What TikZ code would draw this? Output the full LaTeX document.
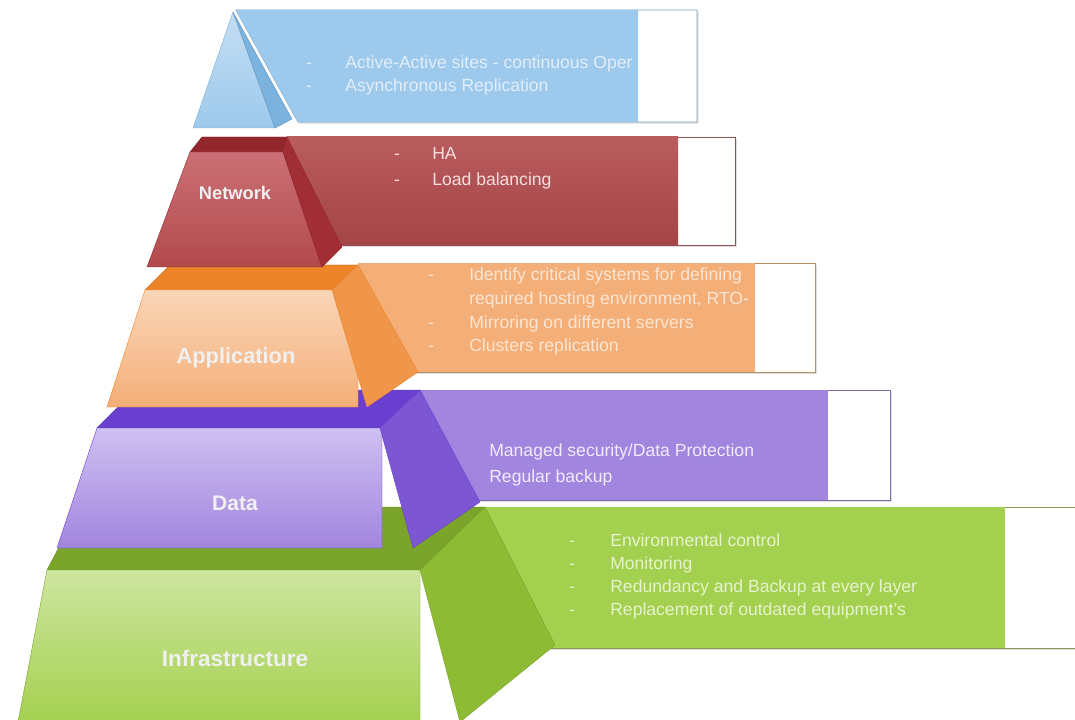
\documentclass[tikz,border=0pt]{standalone}
\usepackage{fontspec}
\setmainfont{Liberation Sans}
\usetikzlibrary{shadows}

\definecolor{bluebase}{RGB}{157,201,236}
\definecolor{bluelight}{RGB}{196,222,244}
\definecolor{blueside}{RGB}{124,178,222}
\definecolor{bluetext}{RGB}{226,238,249}
\definecolor{redbase}{RGB}{178,74,76}
\definecolor{redlight}{RGB}{203,112,118}
\definecolor{redtop}{RGB}{146,38,44}
\definecolor{redside}{RGB}{160,46,52}
\definecolor{redtext}{RGB}{244,222,222}
\definecolor{orangebase}{RGB}{244,174,120}
\definecolor{orangelight}{RGB}{250,214,184}
\definecolor{orangetop}{RGB}{238,132,40}
\definecolor{orangeside}{RGB}{240,150,74}
\definecolor{orangetext}{RGB}{252,230,210}
\definecolor{purplebase}{RGB}{162,133,222}
\definecolor{purplelight}{RGB}{206,192,242}
\definecolor{purpletop}{RGB}{106,63,207}
\definecolor{purpleside}{RGB}{125,87,211}
\definecolor{purpletext}{RGB}{240,236,252}
\definecolor{greenbase}{RGB}{164,208,79}
\definecolor{greenlight}{RGB}{206,230,160}
\definecolor{greentop}{RGB}{123,164,43}
\definecolor{greenside}{RGB}{141,187,52}
\definecolor{greentext}{RGB}{230,243,206}

\begin{document}
\begin{tikzpicture}[x=0.025cm,y=-0.025cm,
    banner/.style={fill=white,line width=0.6pt,
      drop shadow={shadow xshift=1.2pt,shadow yshift=-1.2pt,opacity=0.25}},
    edge/.style={line width=0.3pt},
    layername/.style={text=white!94!black,font=\bfseries\fontsize{15.5}{18}\selectfont},
    item/.style={anchor=west,inner sep=0pt,text height=1.5ex,text depth=0.3ex,
      font=\fontsize{12.5}{15}\selectfont},
    bullet/.style={inner sep=0pt,text height=1.5ex,text depth=0.3ex,
      font=\fontsize{12.5}{15}\selectfont}]

  \useasboundingbox (0,0) rectangle (1075,720);

  % Infrastructure
  \draw[banner,draw=greenside!50!gray] (485,507) rectangle (1080,648);
  \fill[greenbase] (485,507) rectangle (1005,648);
  \begin{scope}
    \clip (485,507) rectangle (1005,648);
    \foreach \t [count=\i] in {Environmental control,Monitoring,
      Redundancy and Backup at every layer,Replacement of outdated equipment's} {
      \node[bullet,text=greentext] (infradash\i) at (572,519.5+23*\i) {-};
      \node[item,text=greentext] (infraitem\i) at (610,519.5+23*\i) {\t};
    }
  \end{scope}
  \filldraw[greentop,edge,draw=greentop!85!black] (47,570) -- (420,570) -- (485,507) -- (80,507) -- cycle;
  \shade[top color=greenlight,bottom color=greenbase,draw=greentop,edge]
    (47,570) -- (420,570) -- (420,722) -- (18,722) -- cycle;
  \filldraw[greenside,edge,draw=greentop] (420,570) -- (485,507) -- (555,645) -- (460,722) -- cycle;
  \node[layername,font=\bfseries\fontsize{16}{18}\selectfont] (infra) at (235,658) {Infrastructure};

  % Data
  \draw[banner,draw=purpleside!50!gray] (420,390) rectangle (890,500);
  \fill[purplebase] (420,390) rectangle (828,500);
  \begin{scope}
    \clip (420,390) rectangle (828,500);
    \foreach \t [count=\i] in {Managed security/Data Protection,Regular backup}
      \node[item,text=purpletext] (dataitem\i) at (489,426+26*\i) {\t};
  \end{scope}
  \filldraw[purpletop,edge,draw=purpletop!85!black] (97,428) -- (382,428) -- (420,390) -- (135,390) -- cycle;
  \shade[top color=purplelight,bottom color=purplebase,draw=purpletop,edge]
    (97,428) -- (382,428) -- (382,548) -- (57,548) -- cycle;
  \filldraw[purpleside,edge,draw=purpletop] (380,428) -- (420,390) -- (480,502) -- (413,548) -- cycle;
  \node[layername,font=\bfseries\fontsize{15}{18}\selectfont] (data) at (235,503) {Data};

  % Application
  \draw[banner,draw=orangeside!50!gray] (358,263) rectangle (815,372);
  \fill[orangebase] (358,263) rectangle (755,372);
  \begin{scope}
    \clip (358,263) rectangle (755,372);
    \foreach \t [count=\i] in {Identify critical systems for defining,
      {required hosting environment, RTO-},Mirroring on different servers,
      Clusters replication}
      \node[item,text=orangetext] (appitem\i) at (469,252.5+23.7*\i) {\t};
    \foreach \i in {1,3,4}
      \node[bullet,text=orangetext] (appdash\i) at (431,252.5+23.7*\i) {-};
  \end{scope}
  \filldraw[orangetop,edge,draw=orangetop!85!black] (145,290) -- (332,290) -- (358,265) -- (170,265) -- cycle;
  \shade[top color=orangelight,bottom color=orangebase,draw=orangetop,edge]
    (145,290) -- (358,290) -- (358,407) -- (107,407) -- cycle;
  \filldraw[orangeside,edge,draw=orangetop] (332,290) -- (358,265) -- (418,372) -- (367,407) -- cycle;
  \node[layername] (app) at (236,358) {Application};

  % Network
  \draw[banner,draw=redside!60!gray] (287,137) rectangle (735,245);
  \shade[top color=redbase!90!white,bottom color=redbase!92!black] (287,137) rectangle (678,245);
  \begin{scope}
    \clip (287,137) rectangle (678,245);
    \foreach \t [count=\i] in {HA,Load balancing} {
      \node[bullet,text=redtext] (netdash\i) at (397,129+26*\i) {-};
      \node[item,text=redtext] (netitem\i) at (432,129+26*\i) {\t};
    }
  \end{scope}
  \filldraw[redtop,edge,draw=redtop!85!black] (190,152) -- (283,152) -- (287,137) -- (202,137) -- cycle;
  \shade[top color=redlight,bottom color=redbase,draw=redtop,edge]
    (190,152) -- (283,152) -- (322,267) -- (147,267) -- cycle;
  \filldraw[redside,edge,draw=redtop] (283,152) -- (287,137) -- (342,247) -- (322,267) -- cycle;
  \node[layername,font=\bfseries\fontsize{13}{15}\selectfont] (net) at (235,193) {Network};

  % top tier
  \draw[banner,draw=blueside!60!gray] (236,10) -- (697,10) -- (697,122) -- (298,122) -- cycle;
  \fill[bluebase] (236,10) -- (638,10) -- (638,122) -- (298,122) -- cycle;
  \begin{scope}
    \clip (236,10) rectangle (638,122);
    \foreach \t [count=\i] in {Active-Active sites - continuous Oper,Asynchronous Replication} {
      \node[bullet,text=bluetext] (topdash\i) at (309,41+23*\i) {-};
      \node[item,text=bluetext] (topitem\i) at (345,41+23*\i) {\t};
    }
  \end{scope}
  \shade[top color=bluelight,bottom color=bluebase,draw=blueside,edge]
    (233,12) -- (275,128) -- (193,128) -- cycle;
  \filldraw[blueside,edge,draw=blueside!85!black] (233,12) -- (292,119) -- (275,128) -- cycle;
\end{tikzpicture}
\end{document}
